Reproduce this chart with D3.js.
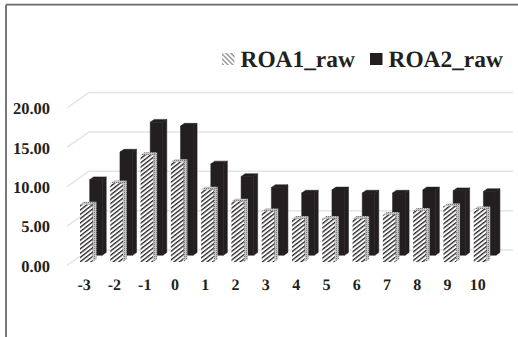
<!DOCTYPE html>
<html>
<head>
<meta charset="utf-8">
<script src="https://cdn.jsdelivr.net/npm/d3@7/dist/d3.min.js"></script>
<style>
  html, body { margin: 0; padding: 0; background: #fff; }
  svg { display: block; }
  text { font-family: "Liberation Serif", serif; font-weight: bold; fill: #231f20; text-rendering: geometricPrecision; }
</style>
</head>
<body>
<svg id="chart" width="518" height="337"></svg>
<script>
const categories = ["-3","-2","-1","0","1","2","3","4","5","6","7","8","9","10"];
const roa1 = [7.3,10.0,13.6,12.7,9.2,7.7,6.45,5.5,5.5,5.5,6.0,6.5,7.1,6.7];
const roa2 = [9.6,13.1,16.9,16.4,11.6,10.0,8.6,7.9,8.3,7.9,7.9,8.3,8.2,8.1];
const yTicks = [0,5,10,15,20];
const seriesNames = ["ROA1_raw","ROA2_raw"];

const svg = d3.select("#chart");
const defs = svg.append("defs");

// Stripes for the front faces of the hatched columns
const hatch = defs.append("pattern").attr("id","hatchFront")
  .attr("patternUnits","userSpaceOnUse").attr("width",3.4).attr("height",3.4)
  .attr("patternTransform","rotate(-38)");
hatch.append("rect").attr("width",3.4).attr("height",3.4).attr("fill","#fff");
hatch.append("rect").attr("width",3.4).attr("height",1.35).attr("fill","#2a2627");

// Fine mottling for their side and top faces
const mottle = defs.append("pattern").attr("id","hatchSide")
  .attr("patternUnits","userSpaceOnUse").attr("width",2).attr("height",2);
mottle.append("rect").attr("width",2).attr("height",2).attr("fill","#c4c4c4");
mottle.append("rect").attr("width",1).attr("height",1).attr("fill","#7a7a7a");

// Lighter reverse stripes for the legend key
const key = defs.append("pattern").attr("id","hatchKey")
  .attr("patternUnits","userSpaceOnUse").attr("width",3.4).attr("height",3.4)
  .attr("patternTransform","rotate(45)");
key.append("rect").attr("width",3.4).attr("height",3.4).attr("fill","#fff");
key.append("rect").attr("width",3.4).attr("height",1.3).attr("fill","#8a8a8a");

// Outer frame: top and left edges only
svg.append("path").attr("d","M6,4.7H518M6,4.7V337")
  .attr("fill","none").attr("stroke","#6a6a6a").attr("stroke-width",1.8);

// Oblique projection: front-plane scales plus a depth shift
const x = d3.scaleBand().domain(categories).range([67,491]);
const y = d3.scaleLinear().domain([0,20]).range([265.5,108]);
const depth = d3.scaleLinear().domain([0,1]).range([0,1]);
const shiftX = 22, shiftY = -15.5;
const px = (cx, d) => cx + depth(d) * shiftX;
const py = (v, d) => y(v) + depth(d) * shiftY;

// Walls: back gridlines and the diagonals down the side wall
const gridColor = "#e4e4e4";
const grid = svg.append("g").attr("fill","none").attr("stroke",gridColor).attr("stroke-width",1.5);
grid.selectAll("path").data(yTicks).join("path")
  .attr("d", t => `M${px(x.range()[0],0)},${py(t,0)}L${px(x.range()[0],1)},${py(t,1)}L${px(x.range()[1],1)},${py(t,1)}`);

// Draws one column as three faces at a given depth slot
function column(g, cat, v, d0, d1, faces) {
  const xL = x(cat) + x.bandwidth()/2 - 7.0;
  const xR = xL + 12.6;
  const poly = pts => pts.map(p => p.join(",")).join(" ");
  const face = (fill, pts) => g.append("polygon").attr("fill",fill)
    .attr("stroke",faces.seam || "none").attr("stroke-width",faces.seam ? 0.5 : 0)
    .attr("points",poly(pts));
  face(faces.side, [[px(xR,d0),py(0,d0)],[px(xR,d1),py(0,d1)],[px(xR,d1),py(v,d1)],[px(xR,d0),py(v,d0)]]);
  face(faces.top, [[px(xL,d0),py(v,d0)],[px(xR,d0),py(v,d0)],[px(xR,d1),py(v,d1)],[px(xL,d1),py(v,d1)]]);
  face(faces.front, [[px(xL,d0),py(0,d0)],[px(xR,d0),py(0,d0)],[px(xR,d0),py(v,d0)],[px(xL,d0),py(v,d0)]]);
}

const rear = svg.append("g");
categories.forEach((c,i) => column(rear, c, roa2[i], 0.66, 0.84,
  {front:"#231f20", side:"#231f20", top:"#231f20", seam:"#231f20"}));
const near = svg.append("g");
categories.forEach((c,i) => column(near, c, roa1[i], 0.22, 0.40,
  {front:"url(#hatchFront)", side:"url(#hatchSide)", top:"url(#hatchSide)"}));

// Value axis along the front edge
const yAxis = svg.append("g").attr("transform","translate(59,0.5)")
  .call(d3.axisLeft(y).tickValues(yTicks).tickFormat(d3.format(".2f")).tickSize(0).tickPadding(9));
yAxis.select(".domain").remove();
yAxis.selectAll("text").attr("font-size",16.5).style("font-family",'"Liberation Serif", serif')
  .style("font-weight","bold");

// Category axis below the floor
const xAxis = svg.append("g").attr("transform","translate(2,272)")
  .call(d3.axisBottom(x).tickSize(0).tickPadding(7));
xAxis.select(".domain").remove();
xAxis.selectAll("text").attr("font-size",16).style("font-family",'"Liberation Serif", serif')
  .style("font-weight","bold");

// Legend
const legendX = [222,370];
const legendFill = ["url(#hatchKey)","#231f20"];
const legend = svg.append("g").selectAll("g").data(seriesNames).join("g")
  .attr("transform",(d,i) => `translate(${legendX[i]},53)`);
legend.append("rect").attr("width",12.5).attr("height",12)
  .attr("fill",(d,i) => legendFill[i]);
legend.append("text").attr("x",18.5).attr("y",13.5).attr("font-size",23.4).text(d => d);
</script>
</body>
</html>
